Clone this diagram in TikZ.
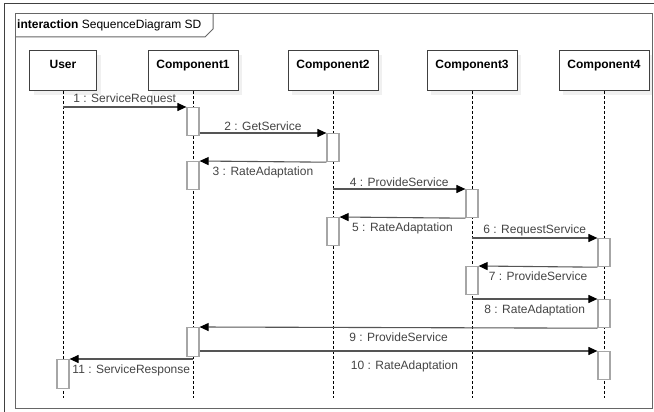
\documentclass[tikz,border=0pt]{standalone}
\usepackage{fontspec}
\setmainfont{Liberation Sans}
\usepackage{xcolor}
\usepackage{tikz}
\usetikzlibrary{positioning,arrows.meta,shadows,calc}
\definecolor{linegray}{HTML}{555555}
\definecolor{txtgray}{HTML}{444444}

\begin{document}
\begin{tikzpicture}[x=1pt,y=-1pt,font=\fontsize{12}{14}\selectfont,
  head/.style={draw=black!75, line width=0.9pt, fill=white, anchor=north,
    minimum width=90pt, minimum height=40pt, inner sep=2pt,
    text height=9pt, text depth=12.4pt, font=\fontsize{12}{14}\selectfont\bfseries,
    drop shadow={opacity=0.12, shadow xshift=4pt, shadow yshift=-5pt}},
  act/.style={draw=gray!70, line width=1.2pt, fill=white, anchor=north,
    minimum width=12pt, minimum height=28pt, inner sep=0pt},
  life/.style={black, line width=0.8pt, dash pattern=on 3pt off 2pt},
  msg/.style={draw=linegray, line width=1.1pt,
    -{Triangle[length=9pt,width=8pt,color=black]}},
  lbl/.style={text=txtgray, inner sep=1.5pt},
  lblb/.style={lbl, below, yshift=-3.5pt}]

  \useasboundingbox (0,0) rectangle (654,412);

  % frames
  \draw[black!75, line width=1pt] (654,4) -- (4,4) -- (4,412);
  \draw[gray!80!black, line width=1pt] (15,14) rectangle (652,408);
  \node(T)[anchor=west, inner sep=0pt] at (17,25) {\textbf{interaction} SequenceDiagram SD};
  \draw[gray!80!black, line width=1pt] (15,37) -- (205,37) -- (213,29) -- (213,14);

  % lifeline heads
  \node(U)[head, minimum width=67pt] at (63,50) {User};
  \node(C1)[head] at (193,50) {Component1};
  \node(C2)[head] at (333,50) {Component2};
  \node(C3)[head] at (472,50) {Component3};
  \node(C4)[head] at (604,50) {Component4};

  \foreach \n in {U,C1,C2,C3,C4}{
    \coordinate (\n end) at (\n.south |- 0,398);
    \draw[life] (\n.south) -- (\n end);
  }

  % activations
  \node(a1)[act] at (C1 |- 0,107) {};
  \node(a2)[act] at (C2 |- 0,133) {};
  \node(a3)[act] at (C1 |- 0,161) {};
  \node(a4)[act] at (C3 |- 0,189) {};
  \node(a5)[act] at (C2 |- 0,217) {};
  \node(a6)[act] at (C4 |- 0,238) {};
  \node(a7)[act] at (C3 |- 0,266) {};
  \node(a8)[act] at (C4 |- 0,299) {};
  \node(a9)[act, minimum height=29pt] at (C1 |- 0,327) {};
  \node(a10)[act] at (C4 |- 0,351) {};
  \node(a11)[act, minimum height=29pt] at (U |- 0,359) {};

  % messages
  \draw[msg] (U |- a1.north) -- node[lbl,midway,above] {1 : ServiceRequest} (a1.north west);
  \draw[msg] (a1.east |- a2.north) -- node[lbl,midway,above] {2 : GetService} (a2.north west);
  \draw[msg] (a2.south west) -- node[lblb,midway] {3 : RateAdaptation} (a3.north east);
  \draw[msg] (C2 |- a4.north) -- node[lbl,midway,above] {4 : ProvideService} (a4.north west);
  \draw[msg] (a4.south west) -- node[lblb,midway] {5 : RateAdaptation} (a5.north east);
  \draw[msg] (C3 |- a6.north) -- node[lbl,midway,above] {6 : RequestService} (a6.north west);
  \draw[msg] (a6.south west) -- node[lblb,midway] {7 : ProvideService} (a7.north east);
  \draw[msg] (C3 |- a8.north) -- node[lblb,midway] {8 : RateAdaptation} (a8.north west);
  \draw[msg] (a8.south west) -- node[lblb,midway] {9 : ProvideService} (a9.north east);
  \draw[msg] (a9.east |- a10.north) -- node[lblb,midway,xshift=6pt,yshift=-4pt] {10 : RateAdaptation} (a10.north west);
  \draw[msg] (C1 |- a11.north) -- node[lblb,midway] {11 : ServiceResponse} (a11.north east);
\end{tikzpicture}
\end{document}
